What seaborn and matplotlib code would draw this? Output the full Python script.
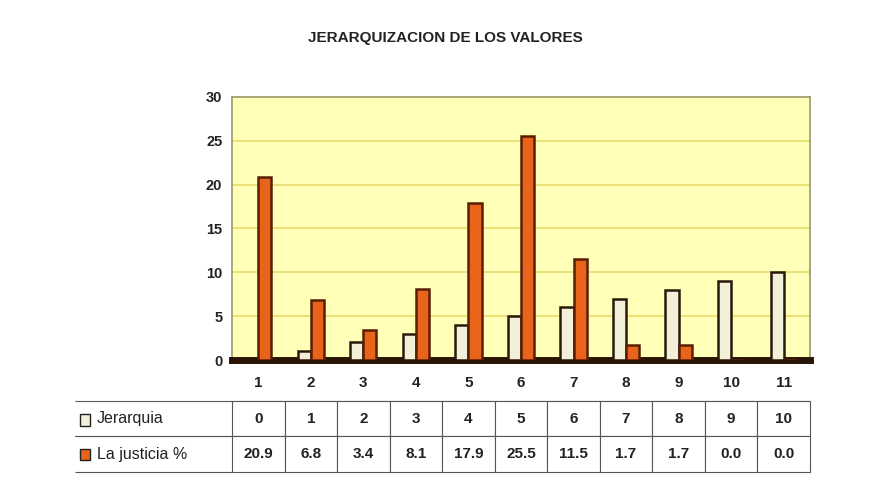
import matplotlib.pyplot as plt
import matplotlib.patches as mpatches
import pandas as pd
import seaborn as sns

categorias = ['1', '2', '3', '4', '5', '6', '7', '8', '9', '10', '11']
jerarquia = [0, 1, 2, 3, 4, 5, 6, 7, 8, 9, 10]
justicia = [20.9, 6.8, 3.4, 8.1, 17.9, 25.5, 11.5, 1.7, 1.7, 0.0, 0.0]
series = ['Jerarquia', 'La justicia %']

df = pd.DataFrame({
    'cat': categorias * 2,
    'valor': jerarquia + justicia,
    'serie': [series[0]] * len(categorias) + [series[1]] * len(categorias),
})

sns.set_style('white')
plt.rcParams['font.family'] = ['Liberation Sans', 'DejaVu Sans']

colores = ['#F3F0DA', '#E8641A']
bordes = ['#2A1808', '#5A1E05']

fig = plt.figure(figsize=(8.69, 4.8), dpi=100)
ax = fig.add_axes([0.267, 0.25, 0.665, 0.548])
ax.set_facecolor('#FFFFB8')

sns.barplot(data=df, x='cat', y='valor', hue='serie', hue_order=series,
            palette=colores, saturation=1, width=0.5, ax=ax, legend=False, zorder=3)
for cont, bc in zip(ax.containers, bordes):
    for bar in cont:
        bar.set_edgecolor(bc)
        bar.set_linewidth(1.8)

ax.set_ylim(0, 30)
ax.set_xlim(-0.5, len(categorias) - 0.5)
ax.set_yticks(range(0, 31, 5))
ax.set_yticklabels([str(v) for v in range(0, 31, 5)], fontsize=10.5, fontweight='bold', color='#222222')
ax.set_xticks([])
ax.set_xlabel('')
ax.set_ylabel('')
ax.yaxis.grid(True, color='#E6DC6A', linewidth=1.2, zorder=0)
ax.set_axisbelow(True)
for s in ['top', 'right', 'left']:
    ax.spines[s].set_color('#9A9A6A')
    ax.spines[s].set_linewidth(1.2)
ax.spines['bottom'].set_color('#2A1505')
ax.spines['bottom'].set_linewidth(5)

fig.text(0.513, 0.92, 'JERARQUIZACION DE LOS VALORES', ha='center', va='center',
         fontsize=11, fontweight='bold', color='#222222')

# tabla de datos debajo del grafico
filas = [categorias,
         [str(v) for v in jerarquia],
         [f'{v:.1f}' for v in justicia]]
etiquetas = ['', 'Jerarquia', 'La justicia %']
ancho_col = [157] + [52.5] * len(categorias)
celdas = [[etiquetas[i]] + filas[i] for i in range(3)]
tabla = ax.table(cellText=celdas, colWidths=ancho_col, cellLoc='center',
                 bbox=[-0.272, -0.426, 1.272, 0.407])
tabla.auto_set_font_size(False)
for (r, c), cell in tabla.get_celld().items():
    cell.set_edgecolor('#555555')
    cell.set_linewidth(0.8)
    cell.get_text().set_fontsize(11)
    cell.get_text().set_fontweight('bold')
    cell.get_text().set_color('#222222')
    if c == 0:
        cell.get_text().set_ha('left')
        cell.PAD = 0.14
        cell.get_text().set_fontweight('normal')
        cell.get_text().set_fontsize(11.5)
    if r == 0 and c == 0:
        cell.visible_edges = ''
    elif r == 0:
        cell.visible_edges = 'B'
    elif c == 0:
        cell.visible_edges = 'TB'

# claves de la leyenda junto a las etiquetas
for i, yk in enumerate([0.125, 0.053]):
    fig.patches.append(mpatches.Rectangle((0.092, yk - 0.012), 0.011, 0.024,
                                          transform=fig.transFigure,
                                          facecolor=colores[i], edgecolor='#222222',
                                          linewidth=1.0))

fig.savefig('out.png', dpi=100)
